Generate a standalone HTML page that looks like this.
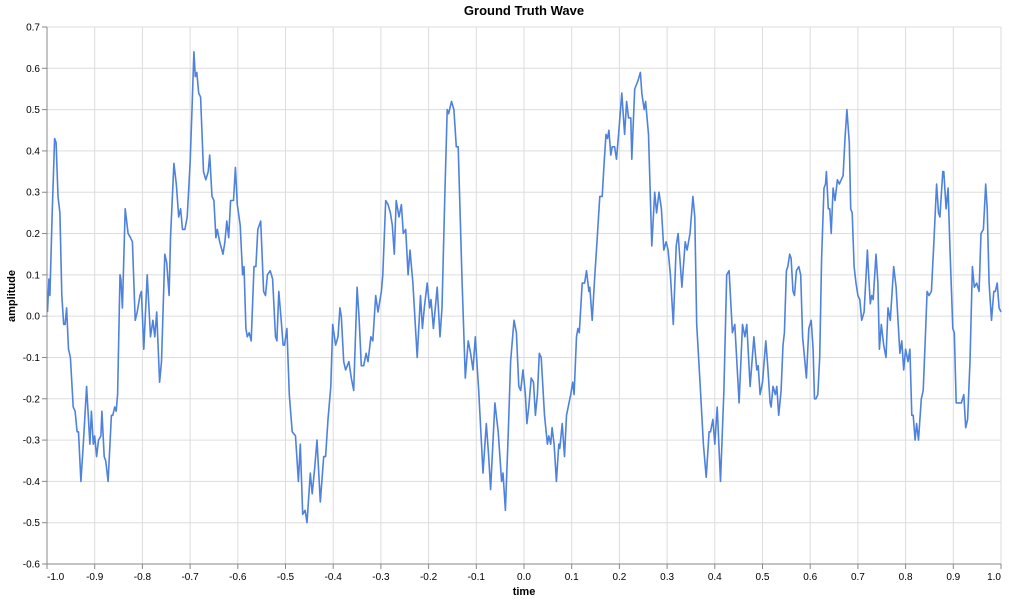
<!DOCTYPE html>
<html><head><meta charset="utf-8"><style>
body{margin:0;background:#fff;}
svg{display:block;font-family:"Liberation Sans",Arial,sans-serif;}
</style></head><body>
<svg id="chart" width="1018" height="600" xmlns="http://www.w3.org/2000/svg">
<text x="524" y="15" text-anchor="middle" font-size="13" font-weight="bold" fill="#000">Ground Truth Wave</text>
<g id="grid"></g>
<g id="axes"></g>
<path id="line" fill="none" stroke="#4e82dd" stroke-width="1.6" stroke-linejoin="round"></path>
<text x="524" y="595" text-anchor="middle" font-size="11" font-weight="bold" fill="#000">time</text>
<text transform="translate(15,296) rotate(-90)" text-anchor="middle" font-size="11" font-weight="bold" fill="#000">amplitude</text>
</svg>
<script>
const xTicks = [-1.0,-0.9,-0.8,-0.7,-0.6,-0.5,-0.4,-0.3,-0.2,-0.1,0.0,0.1,0.2,0.3,0.4,0.5,0.6,0.7,0.8,0.9,1.0];
const yTicks = [-0.6,-0.5,-0.4,-0.3,-0.2,-0.1,0.0,0.1,0.2,0.3,0.4,0.5,0.6,0.7];
const times = [-0.999,-0.996,-0.994,-0.989,-0.984,-0.981,-0.977,-0.973,-0.969,-0.965,-0.962,-0.959,-0.955,-0.951,-0.945,-0.941,-0.937,-0.934,-0.929,-0.924,-0.917,-0.910,-0.907,-0.903,-0.900,-0.896,-0.892,-0.887,-0.885,-0.880,-0.877,-0.872,-0.865,-0.862,-0.858,-0.855,-0.852,-0.847,-0.845,-0.842,-0.836,-0.830,-0.825,-0.821,-0.815,-0.811,-0.805,-0.802,-0.797,-0.790,-0.783,-0.778,-0.774,-0.770,-0.764,-0.760,-0.753,-0.749,-0.744,-0.741,-0.734,-0.729,-0.724,-0.720,-0.716,-0.711,-0.706,-0.700,-0.696,-0.692,-0.689,-0.686,-0.682,-0.678,-0.672,-0.667,-0.662,-0.659,-0.654,-0.650,-0.646,-0.643,-0.638,-0.631,-0.627,-0.623,-0.619,-0.615,-0.609,-0.605,-0.601,-0.595,-0.590,-0.587,-0.583,-0.580,-0.576,-0.572,-0.566,-0.562,-0.558,-0.552,-0.546,-0.542,-0.538,-0.532,-0.527,-0.521,-0.518,-0.514,-0.509,-0.505,-0.502,-0.497,-0.492,-0.486,-0.479,-0.473,-0.469,-0.464,-0.459,-0.455,-0.448,-0.444,-0.439,-0.434,-0.427,-0.420,-0.416,-0.411,-0.405,-0.401,-0.395,-0.390,-0.386,-0.383,-0.378,-0.374,-0.367,-0.362,-0.357,-0.350,-0.346,-0.341,-0.336,-0.331,-0.327,-0.321,-0.317,-0.311,-0.306,-0.299,-0.296,-0.290,-0.285,-0.280,-0.276,-0.272,-0.268,-0.262,-0.257,-0.253,-0.248,-0.243,-0.239,-0.233,-0.224,-0.217,-0.213,-0.209,-0.203,-0.198,-0.195,-0.190,-0.182,-0.176,-0.172,-0.166,-0.161,-0.158,-0.152,-0.147,-0.142,-0.138,-0.130,-0.123,-0.117,-0.112,-0.107,-0.102,-0.095,-0.086,-0.079,-0.074,-0.070,-0.061,-0.054,-0.047,-0.044,-0.039,-0.033,-0.028,-0.021,-0.016,-0.011,-0.007,-0.002,0.003,0.006,0.010,0.015,0.020,0.024,0.028,0.032,0.036,0.043,0.049,0.052,0.056,0.059,0.063,0.068,0.073,0.075,0.080,0.085,0.089,0.098,0.102,0.105,0.110,0.113,0.116,0.122,0.127,0.131,0.136,0.138,0.143,0.148,0.154,0.159,0.164,0.168,0.172,0.175,0.178,0.182,0.185,0.190,0.194,0.199,0.205,0.211,0.215,0.219,0.224,0.226,0.232,0.239,0.244,0.247,0.252,0.255,0.261,0.268,0.274,0.278,0.283,0.288,0.293,0.298,0.302,0.307,0.313,0.319,0.323,0.331,0.338,0.342,0.348,0.354,0.358,0.362,0.369,0.376,0.382,0.388,0.391,0.396,0.400,0.405,0.412,0.419,0.425,0.430,0.437,0.442,0.451,0.458,0.463,0.467,0.474,0.482,0.488,0.491,0.495,0.500,0.507,0.511,0.516,0.518,0.522,0.527,0.530,0.534,0.539,0.543,0.546,0.550,0.553,0.557,0.560,0.564,0.567,0.571,0.576,0.580,0.584,0.588,0.592,0.597,0.602,0.606,0.609,0.612,0.616,0.620,0.624,0.629,0.632,0.634,0.638,0.641,0.644,0.648,0.652,0.657,0.661,0.665,0.669,0.673,0.677,0.682,0.685,0.688,0.692,0.696,0.700,0.704,0.708,0.713,0.720,0.722,0.726,0.729,0.732,0.738,0.742,0.745,0.749,0.754,0.759,0.763,0.768,0.775,0.780,0.788,0.792,0.796,0.800,0.805,0.809,0.813,0.816,0.820,0.823,0.827,0.833,0.837,0.841,0.845,0.849,0.854,0.859,0.865,0.869,0.872,0.878,0.880,0.885,0.889,0.893,0.899,0.902,0.906,0.911,0.917,0.922,0.926,0.930,0.935,0.940,0.944,0.949,0.954,0.958,0.963,0.968,0.971,0.975,0.980,0.985,0.988,0.992,0.996,1.000];
const amplitudes = [0.01,0.09,0.05,0.25,0.43,0.42,0.29,0.25,0.05,-0.02,-0.02,0.02,-0.08,-0.10,-0.22,-0.23,-0.28,-0.28,-0.40,-0.31,-0.17,-0.31,-0.23,-0.31,-0.29,-0.34,-0.30,-0.29,-0.23,-0.34,-0.35,-0.40,-0.24,-0.24,-0.22,-0.23,-0.19,0.10,0.09,0.02,0.26,0.20,0.19,0.18,-0.01,0.01,0.05,0.06,-0.08,0.10,-0.05,-0.01,-0.05,0.01,-0.16,-0.11,0.15,0.13,0.05,0.19,0.37,0.32,0.24,0.26,0.21,0.21,0.24,0.37,0.50,0.64,0.58,0.59,0.54,0.53,0.35,0.33,0.35,0.39,0.29,0.28,0.19,0.21,0.18,0.15,0.18,0.23,0.19,0.28,0.28,0.36,0.27,0.22,0.10,0.12,-0.03,-0.05,-0.04,-0.06,0.12,0.12,0.21,0.23,0.06,0.05,0.10,0.11,0.09,-0.05,-0.06,0.06,-0.01,-0.07,-0.07,-0.03,-0.19,-0.28,-0.29,-0.40,-0.31,-0.48,-0.47,-0.50,-0.38,-0.43,-0.37,-0.30,-0.45,-0.34,-0.34,-0.25,-0.17,-0.02,-0.07,-0.05,0.02,0.00,-0.11,-0.13,-0.11,-0.15,-0.18,0.07,0.00,-0.12,-0.12,-0.09,-0.11,-0.05,-0.06,0.05,0.01,0.06,0.10,0.28,0.27,0.25,0.22,0.15,0.28,0.24,0.27,0.20,0.21,0.10,0.16,0.08,-0.10,0.05,-0.03,0.02,0.08,0.02,0.04,-0.03,0.07,-0.05,0.02,0.29,0.50,0.49,0.52,0.50,0.41,0.41,0.09,-0.15,-0.06,-0.09,-0.13,-0.05,-0.18,-0.38,-0.26,-0.34,-0.42,-0.21,-0.28,-0.40,-0.38,-0.47,-0.28,-0.11,-0.01,-0.04,-0.17,-0.18,-0.13,-0.19,-0.26,-0.22,-0.15,-0.16,-0.24,-0.19,-0.09,-0.10,-0.24,-0.31,-0.29,-0.31,-0.27,-0.31,-0.40,-0.31,-0.32,-0.26,-0.34,-0.24,-0.19,-0.16,-0.19,-0.05,-0.03,-0.04,0.08,0.08,0.11,0.06,0.07,-0.01,0.09,0.20,0.29,0.29,0.37,0.44,0.43,0.45,0.39,0.41,0.41,0.38,0.45,0.54,0.44,0.52,0.48,0.48,0.38,0.55,0.57,0.59,0.54,0.50,0.52,0.44,0.17,0.30,0.25,0.30,0.26,0.16,0.18,0.16,0.10,-0.02,0.17,0.20,0.07,0.18,0.16,0.20,0.29,0.24,-0.02,-0.16,-0.31,-0.39,-0.28,-0.28,-0.25,-0.31,-0.22,-0.40,-0.18,0.10,0.11,-0.04,-0.02,-0.21,-0.02,-0.05,-0.02,-0.17,-0.05,-0.13,-0.12,-0.19,-0.16,-0.06,-0.12,-0.21,-0.22,-0.17,-0.19,-0.17,-0.24,-0.18,-0.07,-0.04,0.11,0.12,0.15,0.14,0.06,0.05,0.11,0.12,0.10,-0.05,-0.10,-0.15,-0.03,-0.01,-0.08,-0.20,-0.20,-0.19,-0.10,0.14,0.31,0.32,0.35,0.26,0.26,0.20,0.31,0.28,0.33,0.32,0.33,0.34,0.43,0.50,0.42,0.26,0.25,0.12,0.08,0.05,0.04,-0.01,0.01,0.16,0.11,0.03,0.05,0.04,0.15,0.08,-0.08,-0.02,-0.07,-0.10,0.02,-0.01,0.12,0.07,-0.09,-0.06,-0.13,-0.08,-0.11,-0.08,-0.24,-0.24,-0.30,-0.26,-0.30,-0.20,-0.18,-0.06,0.06,0.05,0.06,0.17,0.32,0.25,0.24,0.35,0.35,0.26,0.31,0.16,-0.03,-0.04,-0.21,-0.21,-0.21,-0.19,-0.27,-0.25,-0.11,0.12,0.07,0.08,0.06,0.20,0.21,0.32,0.26,0.08,-0.01,0.06,0.06,0.08,0.02,0.01];

const X0=47, X1=1001, Y0=564, Y1=27;
const xMin=-1, xMax=1, yMin=-0.6, yMax=0.7;
function xs(t){return X0+(t-xMin)/(xMax-xMin)*(X1-X0);}
function ys(v){return Y0-(v-yMin)/(yMax-yMin)*(Y0-Y1);}
const NS="http://www.w3.org/2000/svg";
const grid=document.getElementById('grid'), axes=document.getElementById('axes');
function mk(tag,attrs,parent){const e=document.createElementNS(NS,tag);for(const k in attrs)e.setAttribute(k,attrs[k]);parent.appendChild(e);return e;}
xTicks.forEach(t=>{
  const x=xs(t);
  const g=mk('line',{x1:x,x2:x,y1:Y1,y2:Y0,stroke:'#ddd','stroke-width':1},grid);
  
  
  const tk=mk('line',{x1:x,x2:x,y1:Y0,y2:Y0+5,stroke:'#888','stroke-width':1},axes);
  
  
  const lb=mk('text',{x:x,y:Y0+16,'text-anchor':t===xMin?'start':(t===xMax?'end':'middle'),'font-size':10,fill:'#000'},axes);
  lb.textContent=t.toFixed(1);
  
  
});
yTicks.forEach(v=>{
  const y=ys(v);
  const g=mk('line',{x1:X0,x2:X1,y1:y,y2:y,stroke:'#ddd','stroke-width':1},grid);
  
  
  const tk=mk('line',{x1:X0-5,x2:X0,y1:y,y2:y,stroke:'#888','stroke-width':1},axes);
  
  
  const lb=mk('text',{x:X0-7,y:y+3.5,'text-anchor':'end','font-size':10,fill:'#000'},axes);
  lb.textContent=v.toFixed(1);
  
  
});
const xa=mk('line',{x1:X0,x2:X1,y1:Y0,y2:Y0,stroke:'#888','stroke-width':1},axes);


const ya=mk('line',{x1:X0,x2:X0,y1:Y1,y2:Y0,stroke:'#888','stroke-width':1},axes);


let d='';
times.forEach((t,i)=>{d+=(i?'L':'M')+xs(t).toFixed(1)+','+ys(amplitudes[i]).toFixed(1);});
document.getElementById('line').setAttribute('d',d);
</script>
</body></html>
